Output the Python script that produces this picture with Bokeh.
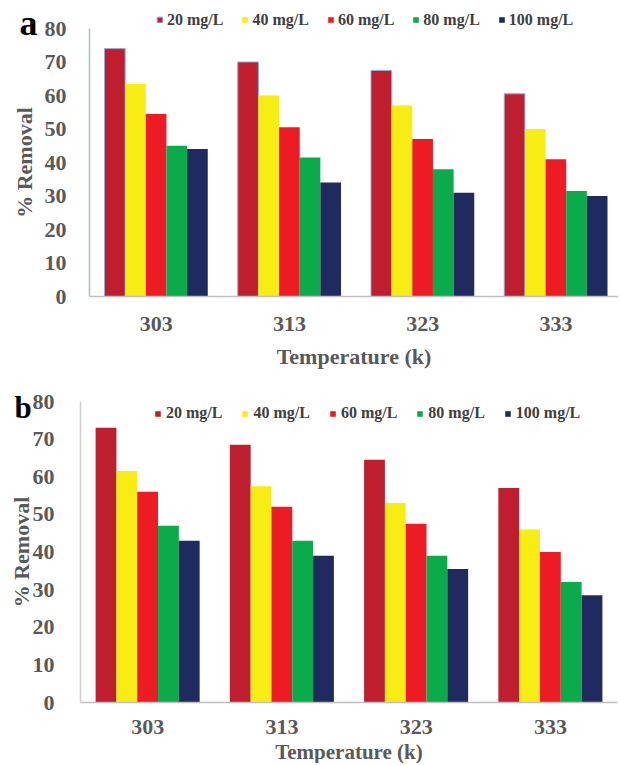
from bokeh.plotting import figure
from bokeh.models import (Range1d, Legend, LegendItem, Label,
                          FixedTicker, ColumnDataSource)
from bokeh.transform import dodge
from bokeh.layouts import column
from bokeh.embed import file_html
from bokeh.resources import INLINE

# ---- data ----
temps = ["303", "313", "323", "333"]
series = ["20 mg/L", "40 mg/L", "60 mg/L", "80 mg/L", "100 mg/L"]
colors = ["#BE1E2D", "#F7EC13", "#ED1C24", "#0BAA4B", "#1F2A5E"]
y_ticks = [0, 10, 20, 30, 40, 50, 60, 70, 80]

a_20 = [74.0, 70.0, 67.5, 60.5]
a_40 = [63.5, 60.0, 57.0, 50.0]
a_60 = [54.5, 50.5, 47.0, 41.0]
a_80 = [45.0, 41.5, 38.0, 31.5]
a_100 = [44.0, 34.0, 31.0, 30.0]

b_20 = [73.0, 68.5, 64.5, 57.0]
b_40 = [61.5, 57.5, 53.0, 46.0]
b_60 = [56.0, 52.0, 47.5, 40.0]
b_80 = [47.0, 43.0, 39.0, 32.0]
b_100 = [43.0, 39.0, 35.5, 28.5]

# category slot centres on a numeric axis (slot i spans i .. i+1)
centers = [i + 0.5 for i in range(len(temps))]

offsets = [-0.31, -0.155, 0.0, 0.155, 0.31]
BAR_W = 0.155
FONT = "Liberation Serif"
GREY = "#595959"
W = 618


def make_panel(vals, height, ax_x, right_x, y0_px, y80_px,
               tag, tag_xy, tag_size, legend_xy, legend_spacing, legend_standoff,
               left_axis_color, y_label_standoff, y_axis_label_standoff,
               x_label_standoff, x_axis_label_standoff, x_title_size, outline20):
    # pixel layout -> data ranges (frame covers the whole figure)
    xs = (right_x - ax_x) / 4.0
    ys = (y0_px - y80_px) / 80.0
    x_range = Range1d(-ax_x / xs, (W - ax_x) / xs)
    y_range = Range1d(-(height - y0_px) / ys, 80 + y80_px / ys)

    src = ColumnDataSource(dict(x=centers, s0=vals[0], s1=vals[1], s2=vals[2],
                                s3=vals[3], s4=vals[4]))
    p = figure(x_range=x_range, y_range=y_range, width=W, height=height,
               output_backend="svg", toolbar_location=None)
    p.min_border = 0
    p.min_border_left = 0
    p.min_border_right = 0
    p.min_border_top = 0
    p.min_border_bottom = 0
    p.outline_line_color = None
    p.xgrid.grid_line_color = None
    p.ygrid.grid_line_color = None
    p.background_fill_color = "white"

    items = []
    for i, (name, col, off) in enumerate(zip(series, colors, offsets)):
        kw = dict(line_color=None)
        if outline20 and i == 0:
            kw = dict(line_color="#8FAADC", line_width=1)
        r = p.vbar(x=dodge("x", off), top="s%d" % i, width=BAR_W, bottom=0,
                   source=src, fill_color=col, **kw)
        items.append(LegendItem(label=name, renderers=[r]))

    leg = Legend(items=items, orientation="horizontal", location=legend_xy,
                 padding=0, margin=0, spacing=legend_spacing,
                 label_standoff=legend_standoff, glyph_width=7, glyph_height=7,
                 label_text_font=FONT, label_text_font_size="16px",
                 label_text_font_style="bold", label_text_color="#404040",
                 border_line_color=None, background_fill_alpha=0)
    p.add_layout(leg)

    # y axis
    ya = p.yaxis[0]
    ya.fixed_location = 0
    ya.bounds = (0, 80)
    ya.ticker = FixedTicker(ticks=y_ticks)
    ya.major_tick_line_color = None
    ya.minor_tick_line_color = None
    ya.axis_line_color = left_axis_color
    ya.axis_line_width = 1.5
    ya.major_label_standoff = y_label_standoff
    ya.major_label_text_font = FONT
    ya.major_label_text_font_size = "22px"
    ya.major_label_text_font_style = "bold"
    ya.major_label_text_color = GREY
    ya.axis_label = "% Removal"
    ya.axis_label_text_font = FONT
    ya.axis_label_text_font_size = "22px"
    ya.axis_label_text_font_style = "bold"
    ya.axis_label_text_color = GREY
    ya.axis_label_standoff = y_axis_label_standoff

    # x axis
    xa = p.xaxis[0]
    xa.fixed_location = 0
    xa.bounds = (0, 4)
    xa.ticker = FixedTicker(ticks=centers)
    xa.major_label_overrides = {c: t for c, t in zip(centers, temps)}
    xa.major_tick_line_color = None
    xa.minor_tick_line_color = None
    xa.axis_line_color = "#BFBFBF"
    xa.axis_line_width = 1.5
    xa.major_label_standoff = x_label_standoff
    xa.major_label_text_font = FONT
    xa.major_label_text_font_size = "22px"
    xa.major_label_text_font_style = "bold"
    xa.major_label_text_color = GREY
    xa.axis_label = "Temperature (k)"
    xa.axis_label_text_font = FONT
    xa.axis_label_text_font_size = x_title_size
    xa.axis_label_text_font_style = "bold"
    xa.axis_label_text_color = GREY
    xa.axis_label_standoff = x_axis_label_standoff

    p.add_layout(Label(x=tag_xy[0], y=height - tag_xy[1], x_units="screen",
                       y_units="screen", text=tag, text_font=FONT,
                       text_font_size=tag_size, text_font_style="bold",
                       text_color="black", text_baseline="alphabetic"))
    return p


HA = 378
HB = 385
pa = make_panel([a_20, a_40, a_60, a_80, a_100], height=HA, ax_x=89, right_x=622,
                y0_px=296, y80_px=28, tag="a", tag_xy=(19, 22), tag_size="36px",
                legend_xy=(156, HA - 28.5), legend_spacing=18, legend_standoff=4,
                left_axis_color="#A9BCD6", y_label_standoff=17,
                y_axis_label_standoff=5, x_label_standoff=14,
                x_axis_label_standoff=10, x_title_size="22px", outline20=True)

pb = make_panel([b_20, b_40, b_60, b_80, b_100], height=HB, ax_x=80, right_x=617,
                y0_px=702 - HA, y80_px=401 - HA, tag="b", tag_xy=(14, 407 - HA),
                tag_size="31px", legend_xy=(154, HB - (422 - HA)),
                legend_spacing=19, legend_standoff=5, left_axis_color="#D0D0D0",
                y_label_standoff=20, y_axis_label_standoff=-4,
                x_label_standoff=11, x_axis_label_standoff=3,
                x_title_size="21px", outline20=False)

layout = column(pa, pb, spacing=0)
open("out.html", "w").write(file_html(layout, INLINE))
